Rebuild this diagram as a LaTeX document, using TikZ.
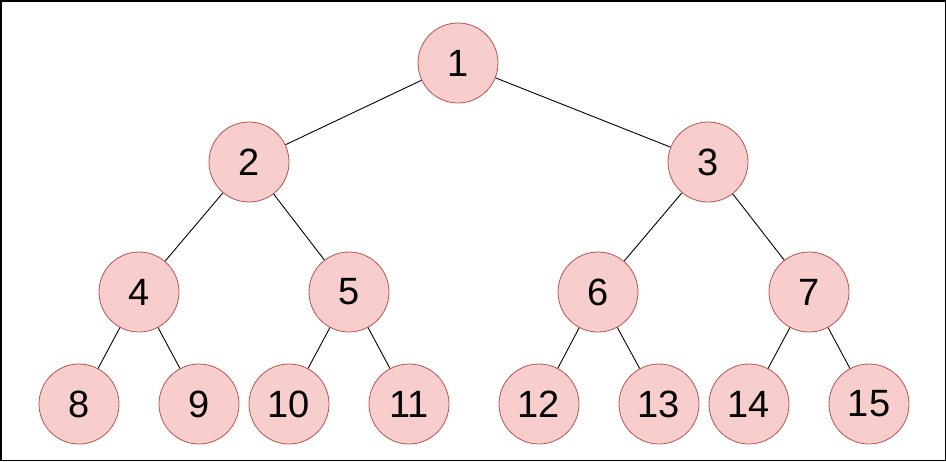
\documentclass[tikz,border=0pt]{standalone}
\usepackage{fontspec}
\setmainfont{Liberation Sans}
\definecolor{nfill}{HTML}{F8CECC}
\definecolor{nline}{HTML}{B85450}
\begin{document}
\begin{tikzpicture}[x=1pt,y=-1pt,
  tn/.style={circle,draw=nline,fill=nfill,line width=0.8pt,minimum size=80pt,inner sep=0pt,font=\fontsize{38}{38}\selectfont},
  edge/.style={draw=black,line width=0.9pt}]
\useasboundingbox (0,0) rectangle (946,461);
\draw[line width=1.5pt] (0.75,0.75) rectangle (945.25,460.25);
\node[tn] (n1) at (458,63) {1};
\node[tn] (n2) at (249,162) {2};
\node[tn] (n3) at (708,162) {3};
\node[tn] (n4) at (139,292) {4};
\node[tn] (n5) at (349,292) {5};
\node[tn] (n6) at (598,292) {6};
\node[tn] (n7) at (809,292) {7};
\node[tn] (n8) at (79,404) {8};
\node[tn] (n9) at (199,404) {9};
\node[tn] (n10) at (289,404) {10};
\node[tn] (n11) at (409,404) {11};
\node[tn] (n12) at (539,404) {12};
\node[tn] (n13) at (659,404) {13};
\node[tn] (n14) at (749,404) {14};
\node[tn] (n15) at (869,404) {15};
\foreach \a/\b in {n1/n2,n1/n3,n2/n4,n2/n5,n3/n6,n3/n7,n4/n8,n4/n9,n5/n10,n5/n11,n6/n12,n6/n13,n7/n14,n7/n15}
  \draw[edge] (\a) -- (\b);
\end{tikzpicture}
\end{document}
